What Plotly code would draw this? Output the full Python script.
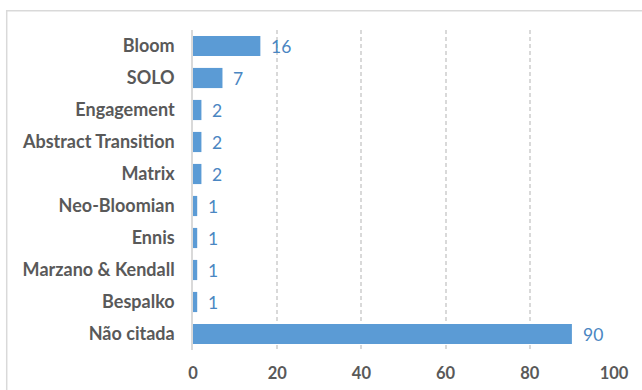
import plotly.graph_objects as go

# Taxonomies cited and how many times each appears
categories = ["Bloom", "SOLO", "Engagement", "Abstract Transition", "Matrix",
              "Neo-Bloomian", "Ennis", "Marzano & Kendall", "Bespalko", "Não citada"]
counts = [16, 7, 2, 2, 2, 1, 1, 1, 1, 90]
x_ticks = [0, 20, 40, 60, 80, 100]

BAR = "#5b9bd5"
LABEL_BLUE = "#4a86c2"
TEXT_GRAY = "#595959"
GRID = "#d9d9d9"
FONT = "Lato"

fig = go.Figure()
fig.add_trace(go.Bar(
    x=counts,
    y=categories,
    orientation="h",
    marker=dict(color=BAR, line=dict(width=0)),
    hoverinfo="skip",
))

# value labels just to the right of each bar
for c, v in zip(categories, counts):
    fig.add_annotation(
        x=v, y=c, text=str(v), showarrow=False,
        xanchor="left", yanchor="middle", xshift=9,
        font=dict(family=FONT, size=17.5, color=LABEL_BLUE),
    )

# light frame around the chart area
fig.add_shape(
    type="rect", xref="paper", yref="paper",
    x0=-0.4425, x1=1.3, y0=-0.2, y1=1.06,
    line=dict(color=GRID, width=1.5), fillcolor="rgba(0,0,0,0)",
    layer="below",
)

fig.update_layout(
    width=642, height=390,
    margin=dict(l=193, r=28, t=30, b=40, autoexpand=False),
    paper_bgcolor="white", plot_bgcolor="white",
    showlegend=False,
    bargap=0.37,
    font=dict(family=FONT, color=TEXT_GRAY),
    xaxis=dict(
        range=[0, 100],
        tickvals=x_ticks,
        ticktext=[str(t) for t in x_ticks],
        showgrid=True, gridcolor=GRID, gridwidth=2, griddash="4px,3px",
        zeroline=False, showline=False,
        ticks="outside", ticklen=8, tickcolor="rgba(0,0,0,0)",
        tickfont=dict(family=FONT, size=16.5, color=TEXT_GRAY, weight="bold"),
        automargin=False,
        fixedrange=True,
    ),
    yaxis=dict(
        categoryorder="array",
        categoryarray=categories[::-1],
        showgrid=False, zeroline=False,
        showline=True, linecolor=GRID, linewidth=1.5,
        ticks="outside", ticklen=13, tickcolor="rgba(0,0,0,0)",
        tickfont=dict(family=FONT, size=18, color=TEXT_GRAY, weight="bold"),
        automargin=False,
        fixedrange=True,
    ),
)

fig.write_html("out.html")
